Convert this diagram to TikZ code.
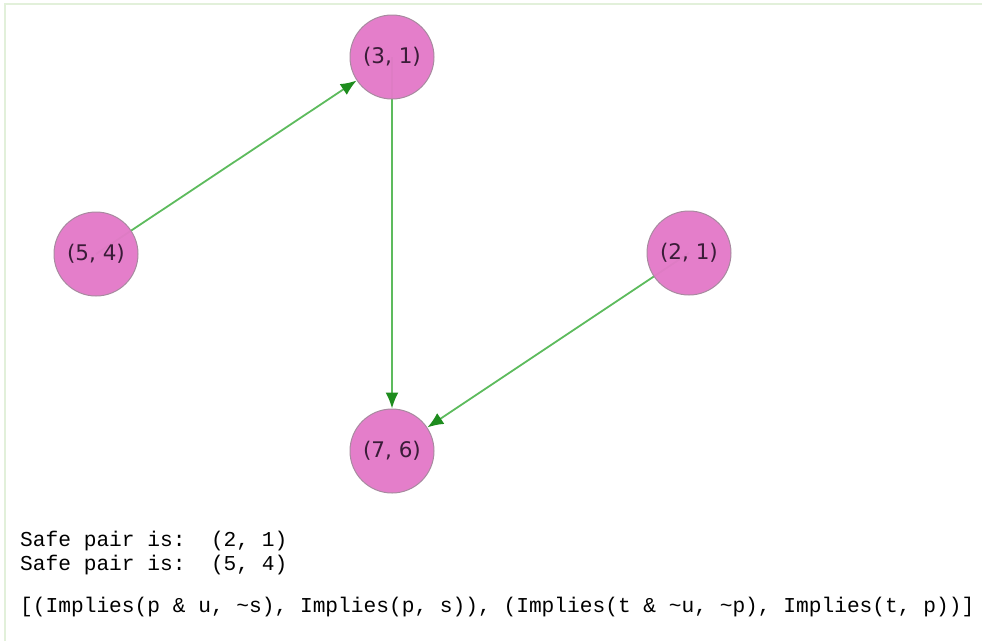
\documentclass[tikz,border=0pt]{standalone}
\usepackage{fontspec}
\setmainfont{DejaVu Sans}
\newfontfamily\codefont{Liberation Mono}
\usetikzlibrary{arrows.meta,backgrounds}
\definecolor{nodepink}{HTML}{E37AC8}
\definecolor{nodeedge}{HTML}{A88AA0}
\definecolor{labelc}{HTML}{3A1C38}
\definecolor{edgegreen}{HTML}{5DBB5D}
\definecolor{tipgreen}{HTML}{1E8C1E}
\definecolor{framegreen}{HTML}{E2F0DA}
\tikzset{
  vert/.style={circle, minimum size=84pt, inner sep=0pt, fill=nodepink, draw=nodeedge,
    line width=1pt, fill opacity=0.97, text opacity=1, text=labelc,
    font=\fontsize{21.5}{24}\selectfont},
  link/.style={draw=edgegreen, line width=1.8pt,
    -{Latex[length=16pt,width=13pt,fill=tipgreen,color=tipgreen]}},
  codeline/.style={anchor=base west, inner sep=0pt, font=\codefont\fontsize{21.2}{24}\selectfont}
}
\begin{document}
\begin{tikzpicture}[x=1pt,y=-1pt]
\useasboundingbox (0,0) rectangle (982,641);
\draw[framegreen, line width=2.5pt] (5,641) -- (5,4) -- (982,4);
\node[vert] (n31) at (392,57) {(3, 1)};
\node[vert] (n54) at (96,254) {(5, 4)};
\node[vert] (n21) at (689,253) {(2, 1)};
\node[vert] (n76) at (392,451) {(7, 6)};
\begin{scope}[on background layer]
\draw[link] (n54.center) -- (n31);
\draw[link] (n31.center) -- (n76);
\draw[link] (n21.center) -- (n76);
\end{scope}
\node[codeline] (l1) at (20,546) {Safe pair is:\ \ (2, 1)};
\node[codeline] (l2) at (20,570) {Safe pair is:\ \ (5, 4)};
\node[codeline] (l3) at (20,612) {[(Implies(p \& u, \textasciitilde s), Implies(p, s)), (Implies(t \& \textasciitilde u, \textasciitilde p), Implies(t, p))]};
\end{tikzpicture}
\end{document}
